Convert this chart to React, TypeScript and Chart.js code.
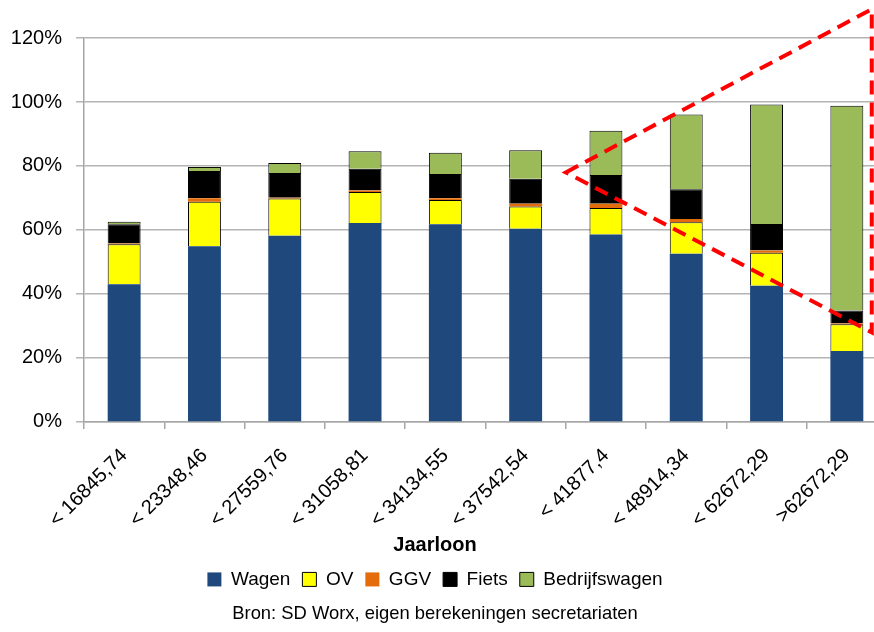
import React, { useEffect, useRef } from "react";
import { Chart, registerables } from "chart.js";

Chart.register(...registerables);

const categories = [
  "< 16845,74",
  "< 23348,46",
  "< 27559,76",
  "< 31058,81",
  "< 34134,55",
  "< 37542,54",
  "< 41877,4",
  "< 48914,34",
  "< 62672,29",
  ">62672,29",
];

const wagen = [43.0, 54.9, 58.2, 62.2, 61.8, 60.4, 58.6, 52.6, 42.6, 22.2];
const ov = [12.5, 13.9, 11.6, 9.7, 7.6, 6.9, 8.3, 9.8, 10.3, 8.3];
const ggv = [0.3, 1.1, 0.3, 0.4, 0.5, 0.9, 1.3, 1.0, 0.7, 0.3];
const fiets = [6.0, 8.5, 7.7, 6.8, 7.6, 7.8, 9.0, 9.3, 8.3, 4.0];
const bedrijfswagen = [0.8, 1.3, 3.1, 5.5, 6.6, 8.9, 13.8, 23.4, 37.3, 64.0];

const yTicks = [0, 20, 40, 60, 80, 100, 120];

// red dashed triangle annotation, in (category index, percent) coordinates
const triangleX = [5.5, 9.31, 9.31];
const triangleY = [78, 129, 28];

const trianglePlugin = {
  id: "triangle",
  afterDraw(chart: any) {
    const { ctx, scales } = chart;
    const xs = scales.x;
    const ys = scales.y;
    ctx.save();
    ctx.strokeStyle = "#FF0000";
    ctx.lineWidth = 4;
    ctx.setLineDash([14, 8]);
    ctx.beginPath();
    for (let i = 0; i < triangleX.length; i++) {
      const px = xs.getPixelForValue(triangleX[i]);
      const py = ys.getPixelForValue(triangleY[i]);
      if (i === 0) ctx.moveTo(px, py);
      else ctx.lineTo(px, py);
    }
    ctx.closePath();
    ctx.stroke();
    ctx.restore();
  },
};

export default function App() {
  const ref = useRef<HTMLCanvasElement | null>(null);

  useEffect(() => {
    if (!ref.current) return;
    const font = "'Liberation Sans', Arial, sans-serif";
    const chart = new Chart(ref.current, {
      type: "bar",
      data: {
        labels: categories,
        datasets: [
          { label: "Wagen", data: wagen, backgroundColor: "#1F497D", borderWidth: 0, borderColor: "#1F497D" },
          { label: "OV", data: ov, backgroundColor: "#FFFF00", borderWidth: 1, borderColor: "#000000" },
          { label: "GGV", data: ggv, backgroundColor: "#E46C0A", borderWidth: 0, borderColor: "#E46C0A" },
          { label: "Fiets", data: fiets, backgroundColor: "#000000", borderWidth: 1, borderColor: "#000000" },
          { label: "Bedrijfswagen", data: bedrijfswagen, backgroundColor: "#9BBB59", borderWidth: 1, borderColor: "#000000" },
        ],
      },
      options: {
        responsive: false,
        animation: false,
        maintainAspectRatio: false,
        datasets: { bar: { barPercentage: 0.41, categoryPercentage: 1.0 } },
        layout: { padding: { top: 38, left: 0, right: 0, bottom: 0 } },
        scales: {
          x: {
            stacked: true,
            afterFit: (s: any) => { s.height = 109; },
            grid: { display: true, drawOnChartArea: false, drawTicks: true, tickLength: 7, color: "#A6A6A6", lineWidth: 1.5, offset: true },
            border: { color: "#A6A6A6", width: 1.5 },
            ticks: { font: { family: font, size: 20 }, color: "#000", minRotation: 45, maxRotation: 45, autoSkip: false, padding: 15 },
          },
          y: {
            stacked: true,
            min: 0,
            max: 120,
            afterFit: (s: any) => { s.width = 101; },
            afterBuildTicks: (s: any) => { s.ticks = yTicks.map((v) => ({ value: v })); },
            grid: { color: "#B4B4B4", lineWidth: 1.5, tickLength: 8 },
            border: { color: "#A6A6A6", width: 1.5 },
            ticks: { font: { family: font, size: 20 }, color: "#000", padding: 14, callback: (v: any) => v + "%" },
          },
        },
        plugins: {
          legend: {
            position: "bottom",
            labels: { font: { family: font, size: 19 }, color: "#000", boxWidth: 14, boxHeight: 14, padding: 12 },
          },
          title: {
            display: true,
            text: "Jaarloon",
            position: "bottom",
            weight: 500,
            color: "#000",
            font: { family: font, size: 20, weight: "bold" },
            padding: { top: 3, bottom: 0 },
          } as any,
          subtitle: {
            display: true,
            text: "Bron: SD Worx, eigen berekeningen secretariaten",
            position: "bottom",
            color: "#000",
            font: { family: font, size: 18.4, weight: "normal" },
            padding: { top: 4, bottom: 7 },
          },
          tooltip: { enabled: false },
        },
      },
      plugins: [trianglePlugin],
    } as any);
    return () => chart.destroy();
  }, []);

  return (
    <div style={{ position: "absolute", left: 0, top: 0, width: 874, height: 632, overflow: "hidden", background: "#fff" }}>
      <div style={{ position: "absolute", left: -17, top: 0, width: 904, height: 632 }}>
        <canvas ref={ref} width={904} height={632} style={{ width: 904, height: 632, display: "block" }} />
      </div>
    </div>
  );
}
